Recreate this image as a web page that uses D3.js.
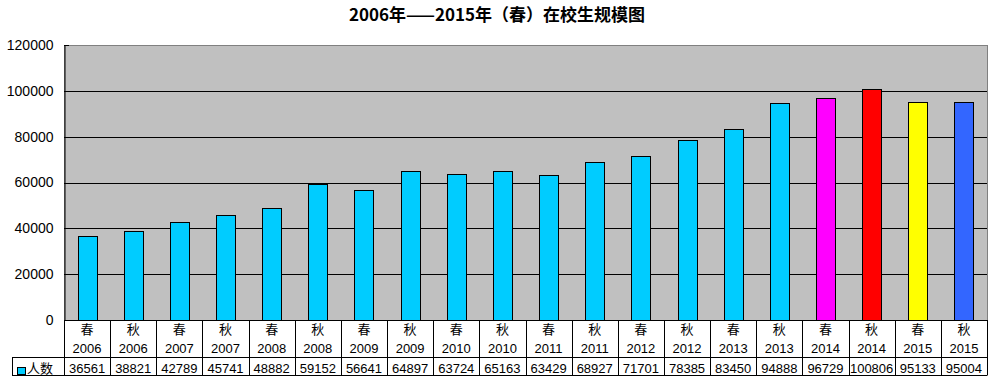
<!DOCTYPE html>
<html>
<head>
<meta charset="utf-8">
<script src="https://cdn.jsdelivr.net/npm/d3@7"></script>
<style>
  body { margin: 0; background: #fff; }
  text { font-family: "Noto Sans CJK SC", "DejaVu Sans", sans-serif; }
</style>
</head>
<body>
<svg width="995" height="385"></svg>
<script>
// Data
const seasons = ["春","秋","春","秋","春","秋","春","秋","春","秋","春","秋","春","秋","春","秋","春","秋","春","秋"];
const years = ["2006","2006","2007","2007","2008","2008","2009","2009","2010","2010","2011","2011","2012","2012","2013","2013","2014","2014","2015","2015"];
const students = [36561, 38821, 42789, 45741, 48882, 59152, 56641, 64897, 63724, 65163, 63429, 68927, 71701, 78385, 83450, 94888, 96729, 100806, 95133, 95004];
const barColors = ["#00CCFF","#00CCFF","#00CCFF","#00CCFF","#00CCFF","#00CCFF","#00CCFF","#00CCFF","#00CCFF","#00CCFF","#00CCFF","#00CCFF","#00CCFF","#00CCFF","#00CCFF","#00CCFF","#FF00FF","#FF0000","#FFFF00","#3366FF"];
const yTicks = [0, 20000, 40000, 60000, 80000, 100000, 120000];
const seriesName = "人数";

const svg = d3.select("svg");
const plotLeft = 64, plotRight = 987, plotTop = 45, plotBottom = 320;
const tableLeft = 12, row1 = 357, row2 = 375;

const keys = d3.range(students.length);
const x = d3.scaleBand().domain(keys).range([plotLeft, plotRight]);
const y = d3.scaleLinear().domain([0, 120000]).range([plotBottom, plotTop]);

// Title
svg.append("text")
    .attr("x", 497).attr("y", 21)
    .attr("text-anchor", "middle")
    .style("font-size", "17px").style("font-weight", "bold")
    .text("2006年——2015年（春）在校生规模图");

// Plot area
svg.append("rect")
    .attr("x", plotLeft + 0.5).attr("y", plotTop + 0.5)
    .attr("width", plotRight - plotLeft).attr("height", plotBottom - plotTop)
    .attr("fill", "#C0C0C0").attr("stroke", "#808080");

// Gridlines
svg.append("g")
    .selectAll("line")
    .data(yTicks.filter(d => d > 0 && d < 120000))
    .enter().append("line")
    .attr("x1", plotLeft).attr("x2", plotRight)
    .attr("y1", d => Math.round(y(d)) + 0.5).attr("y2", d => Math.round(y(d)) + 0.5)
    .attr("stroke", "#000");

// Y axis
const yAxis = svg.append("g")
    .attr("transform", `translate(${plotLeft + 0.5},0)`)
    .call(d3.axisLeft(y).tickValues(yTicks).tickSize(0).tickPadding(11).tickFormat(d3.format("d")));
yAxis.select(".domain").attr("stroke", "#000");
yAxis.selectAll("text").style("font-size", "14px").style("font-family", "'Liberation Sans Narrow', 'Liberation Sans', sans-serif").attr("fill", "#000");
svg.append("line").attr("x1", plotLeft).attr("x2", plotLeft + 5).attr("y1", plotTop + 0.5).attr("y2", plotTop + 0.5).attr("stroke", "#000");

// Bars
const barW = 19;
svg.append("g")
    .selectAll("rect")
    .data(keys)
    .enter().append("rect")
    .attr("x", i => Math.round(x(i) + (x.bandwidth() - barW) / 2) + 0.5)
    .attr("y", i => Math.round(y(students[i])) + 0.5)
    .attr("width", barW)
    .attr("height", i => plotBottom - Math.round(y(students[i])))
    .attr("fill", i => barColors[i])
    .attr("stroke", "#000");

// Data table
const tbl = svg.append("g").attr("stroke", "#000").attr("fill", "none");
tbl.append("line").attr("x1", plotLeft + 0.5).attr("x2", plotLeft + 0.5).attr("y1", plotBottom).attr("y2", row2 + 0.5);
tbl.append("line").attr("x1", plotRight + 0.5).attr("x2", plotRight + 0.5).attr("y1", plotBottom).attr("y2", row2 + 0.5);
tbl.append("line").attr("x1", plotLeft).attr("x2", plotRight).attr("y1", plotBottom + 0.5).attr("y2", plotBottom + 0.5);
tbl.append("line").attr("x1", tableLeft).attr("x2", plotRight).attr("y1", row1 + 0.5).attr("y2", row1 + 0.5);
tbl.append("line").attr("x1", tableLeft).attr("x2", plotRight).attr("y1", row2 + 0.5).attr("y2", row2 + 0.5);
tbl.append("line").attr("x1", tableLeft + 0.5).attr("x2", tableLeft + 0.5).attr("y1", row1).attr("y2", row2 + 0.5);
tbl.selectAll(".sep")
    .data(keys.slice(1))
    .enter().append("line")
    .attr("x1", i => Math.round(x(i)) + 0.5).attr("x2", i => Math.round(x(i)) + 0.5)
    .attr("y1", plotBottom).attr("y2", row2 + 0.5);

const cells = svg.append("g").attr("text-anchor", "middle").style("font-size", "13px");
cells.selectAll(".season")
    .data(keys).enter().append("text")
    .attr("x", i => x(i) + x.bandwidth() / 2).attr("y", 334)
    .text(i => seasons[i]);
cells.selectAll(".year")
    .data(keys).enter().append("text")
    .attr("x", i => x(i) + x.bandwidth() / 2).attr("y", 353)
    .style("font-family", "'Liberation Sans', sans-serif")
    .text(i => years[i]);
cells.selectAll(".val")
    .data(keys).enter().append("text")
    .attr("x", i => x(i) + x.bandwidth() / 2).attr("y", 373)
    .style("font-family", "'Liberation Sans', sans-serif")
    .text(i => students[i]);

// Legend key
svg.append("rect")
    .attr("x", 17.5).attr("y", 367.5).attr("width", 8).attr("height", 7)
    .attr("fill", "#00CCFF").attr("stroke", "#000");
svg.append("text")
    .attr("x", 27).attr("y", 373)
    .style("font-size", "13px")
    .text(seriesName);
</script>
</body>
</html>
